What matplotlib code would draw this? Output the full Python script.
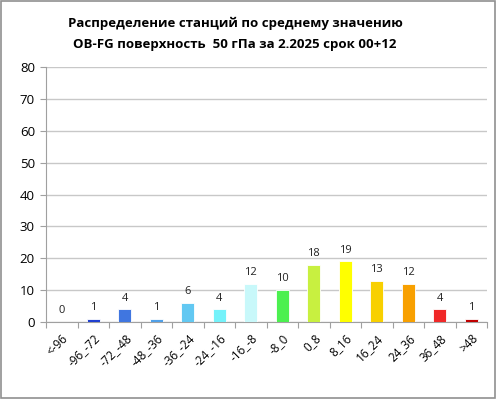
import matplotlib
matplotlib.use("Agg")
import matplotlib.pyplot as plt
from matplotlib.patches import Rectangle

categories = ["<-96", "-96_-72", "-72_-48", "-48_-36", "-36_-24", "-24_-16", "-16_-8",
              "-8_0", "0_8", "8_16", "16_24", "24_36", "36_48", ">48"]
values = [0, 1, 4, 1, 6, 4, 12, 10, 18, 19, 13, 12, 4, 1]
colors = ["#2040d0", "#2040d0", "#4076e0", "#50a0e8", "#62c8f2", "#74f2fa", "#c8f8fa",
          "#4cf050", "#c8f040", "#ffff00", "#f8d000", "#f8a000", "#f02828", "#c00000"]
yticks = [0, 10, 20, 30, 40, 50, 60, 70, 80]
title = "Распределение станций по среднему значению\nOB-FG поверхность  50 гПа за 2.2025 срок 00+12"

plt.rcParams['font.family'] = ['Open Sans', 'DejaVu Sans']
fig = plt.figure(figsize=(4.96, 3.99), dpi=100)
ax = fig.add_axes([46/496, 1-322/399, 441/496, 255/399])
x = list(range(len(categories)))
bars = ax.bar(x, values, width=0.4, color=colors, edgecolor='white', linewidth=0.6, zorder=3)
for xi, v in zip(x, values):
    ax.text(xi, v + 1.8, str(v), ha='center', va='bottom', fontsize=8, color='#222222')
ax.set_xlim(-0.5, len(categories) - 0.5)
ax.set_ylim(0, 80)
ax.set_yticks(yticks)
ax.set_yticklabels([str(t) for t in yticks], fontsize=9.5)
ax.set_xticks([i - 0.5 for i in range(len(categories) + 1)], minor=False)
ax.set_xticklabels([])
ax.set_xticks(x, minor=True)
ax.set_xticklabels(categories, minor=True, rotation=45, ha='right', rotation_mode='anchor', fontsize=8.5)
ax.tick_params(axis='x', which='major', length=4, color='#a0a0a0', direction='out')
ax.tick_params(axis='x', which='minor', length=0, pad=7)
ax.tick_params(axis='y', length=4, color='#a0a0a0', direction='out', pad=4)
ax.grid(axis='y', color='#c8c8c8', linewidth=1.0, zorder=0)
for s in ['top', 'right']:
    ax.spines[s].set_visible(False)
ax.spines['bottom'].set_color('#a0a0a0')
ax.spines['left'].set_color('#a0a0a0')
fig.text(235/496, 1 - 34/399, title, ha='center', va='center', fontsize=9.5, fontweight='bold', linespacing=1.75)
fig.patches.append(Rectangle((0.002, 0.002), 0.996, 0.996, transform=fig.transFigure,
                             fill=False, edgecolor='#909090', linewidth=1.2))
fig.savefig("out.png", dpi=100)
